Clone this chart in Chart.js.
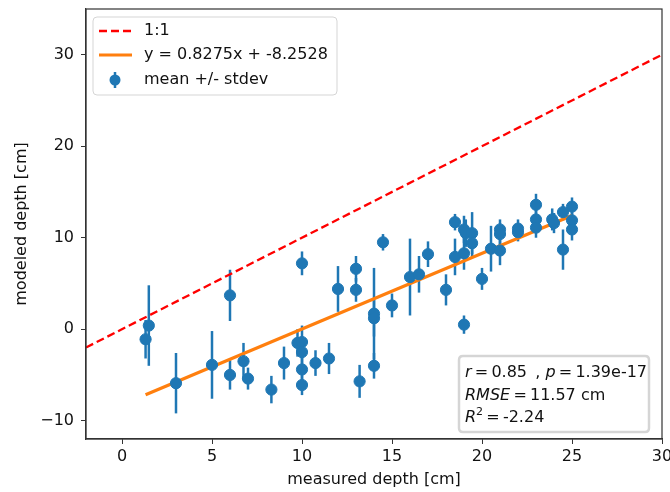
<!DOCTYPE html>
<html lang="en">
<head>
<meta charset="UTF-8">
<title>modeled vs measured depth</title>
<script src="https://cdn.jsdelivr.net/npm/chart.js"></script>
<style>
  html, body { margin: 0; padding: 0; background: #fff; }
  #wrap { width: 670px; height: 492px; }
</style>
</head>
<body>
<div id="wrap"><canvas id="myChart" width="670" height="492"></canvas></div>
<script>
    // measured depth (x), modeled mean (y), stdev (err)
    const measured = [1.31, 1.49, 3.0, 5.0, 6.0, 6.0, 6.75, 7.0, 8.3, 9.0,
        10.0, 9.75, 10.0, 10.0, 10.0, 10.0, 10.75, 11.5, 12.0, 13.0,
        13.0, 13.2, 14.0, 14.0, 14.0, 14.5, 15.0, 16.0, 16.5, 17.0,
        18.0, 18.5, 18.5, 19.0, 19.0, 19.0, 19.1, 19.45, 19.45, 20.0,
        20.5, 21.0, 21.0, 21.0, 22.0, 22.0, 23.0, 23.0, 23.0, 23.9,
        24.0, 24.5, 24.5, 25.0, 25.0, 25.0];
    const modeled = [-1.1, 0.4, -5.9, -3.9, 3.7, -5.0, -3.5, -5.4, -6.6, -3.7,
        7.2, -1.5, -1.4, -2.5, -4.4, -6.1, -3.7, -3.2, 4.4, 6.6,
        4.3, -5.7, -4.0, 1.7, 1.2, 9.5, 2.6, 5.7, 6.0, 8.2,
        4.3, 11.7, 7.9, 0.5, 10.9, 8.3, 10.5, 10.5, 9.4, 5.5,
        8.8, 10.9, 10.4, 8.6, 11.0, 10.6, 13.6, 12.0, 11.1, 12.0,
        11.6, 12.8, 8.7, 13.4, 11.9, 10.9];
    const stdev = [2.1, 4.4, 3.3, 3.7, 2.8, 1.6, 2.0, 1.2, 1.5, 1.8,
        1.3, 1.5, 1.8, 1.5, 1.5, 1.1, 1.4, 1.7, 2.5, 1.4,
        1.3, 1.8, 1.4, 5.0, 2.0, 0.9, 1.3, 4.2, 2.0, 1.4,
        1.7, 0.9, 2.0, 1.0, 1.5, 1.8, 1.5, 2.3, 1.5, 1.2,
        2.5, 1.1, 1.2, 1.6, 1.0, 1.0, 1.2, 1.2, 1.1, 1.2,
        1.1, 0.9, 2.2, 1.0, 1.0, 1.2];

    const oneToOneX = [-2, 30];
    const fitSlope = 0.8275;
    const fitIntercept = -8.2528;
    const fitX = [1.31, 25.0];

    const xTicks = [0, 5, 10, 15, 20, 25, 30];
    const yTicks = [-10, 0, 10, 20, 30];
    const xRange = [-2, 30];
    const yRange = [-12, 35];

    const statsLines = [
        [['r', true], ['\u2009=\u20090.85 \u2009, ', false], ['p', true], ['\u2009=\u20091.39e-17', false]],
        [['RMSE', true], ['\u2009=\u200911.57 cm', false]],
        [['R', true], ['2', 'sup'], ['\u2009=\u2009-2.24', false]]
    ];

    const BLUE = '#1f77b4';
    const FONT = '"DejaVu Sans", sans-serif';
    const FS = 16;

    const points = measured.map((x, i) => ({ x: x, y: modeled[i] }));

    // error bars drawn from the scales
    const errorBars = {
        id: 'errorBars',
        beforeDatasetsDraw(chart) {
            const ctx = chart.ctx;
            const xs = chart.scales.x, ys = chart.scales.y;
            ctx.save();
            ctx.strokeStyle = BLUE;
            ctx.lineWidth = 2.5;
            for (let i = 0; i < measured.length; i++) {
                const px = xs.getPixelForValue(measured[i]);
                ctx.beginPath();
                ctx.moveTo(px, ys.getPixelForValue(modeled[i] - stdev[i]));
                ctx.lineTo(px, ys.getPixelForValue(modeled[i] + stdev[i]));
                ctx.stroke();
            }
            ctx.restore();
        }
    };

    function roundBox(ctx, x, y, w, h, r) {
        ctx.beginPath();
        ctx.moveTo(x + r, y);
        ctx.lineTo(x + w - r, y);
        ctx.quadraticCurveTo(x + w, y, x + w, y + r);
        ctx.lineTo(x + w, y + h - r);
        ctx.quadraticCurveTo(x + w, y + h, x + w - r, y + h);
        ctx.lineTo(x + r, y + h);
        ctx.quadraticCurveTo(x, y + h, x, y + h - r);
        ctx.lineTo(x, y + r);
        ctx.quadraticCurveTo(x, y, x + r, y);
        ctx.closePath();
    }

    const frameAndBoxes = {
        id: 'frameAndBoxes',
        afterDraw(chart) {
            const ctx = chart.ctx;
            const a = chart.chartArea;
            ctx.save();
            // full frame
            ctx.strokeStyle = '#333';
            ctx.lineWidth = 1.2;
            ctx.strokeRect(a.left, a.top, a.right - a.left, a.bottom - a.top);

            // legend
            const lx = a.left + 7, ly = a.top + 8;
            roundBox(ctx, lx, ly, 244, 78, 4);
            ctx.fillStyle = 'rgba(255,255,255,0.85)';
            ctx.fill();
            ctx.strokeStyle = '#d5d5d5';
            ctx.lineWidth = 1;
            ctx.stroke();

            ctx.font = FS + 'px ' + FONT;
            ctx.fillStyle = '#111';
            ctx.textBaseline = 'middle';
            const labels = chart.data.datasets.map(d => d.label);

            ctx.strokeStyle = 'red';
            ctx.lineWidth = 2.3;
            ctx.setLineDash([8, 4]);
            ctx.beginPath(); ctx.moveTo(lx + 6, ly + 14); ctx.lineTo(lx + 39, ly + 14); ctx.stroke();
            ctx.setLineDash([]);
            ctx.fillText(labels[1], lx + 51, ly + 14);

            ctx.strokeStyle = '#ff7f0e';
            ctx.lineWidth = 2.8;
            ctx.beginPath(); ctx.moveTo(lx + 6, ly + 38); ctx.lineTo(lx + 39, ly + 38); ctx.stroke();
            ctx.fillText(labels[2], lx + 51, ly + 38);

            ctx.strokeStyle = BLUE;
            ctx.fillStyle = BLUE;
            ctx.lineWidth = 2.5;
            ctx.beginPath(); ctx.moveTo(lx + 22, ly + 55); ctx.lineTo(lx + 22, ly + 71); ctx.stroke();
            ctx.beginPath(); ctx.arc(lx + 22, ly + 63, 5.5, 0, Math.PI * 2); ctx.fill();
            ctx.fillStyle = '#111';
            ctx.fillText(labels[0], lx + 51, ly + 63);

            // stats box
            const bx = a.right - 203, by = a.bottom - 83;
            roundBox(ctx, bx, by, 190, 76, 4);
            ctx.fillStyle = 'rgba(255,255,255,0.85)';
            ctx.fill();
            ctx.strokeStyle = '#d5d5d5';
            ctx.stroke();
            ctx.fillStyle = '#111';
            statsLines.forEach((parts, li) => {
                let cx = bx + 6;
                const cy = by + 17 + li * 22.5;
                parts.forEach(([txt, style]) => {
                    if (style === 'sup') {
                        ctx.font = '11px ' + FONT;
                        ctx.fillText(txt, cx, cy - 6);
                    } else {
                        ctx.font = (style ? 'italic ' : '') + FS + 'px ' + FONT;
                        ctx.fillText(txt, cx, cy);
                    }
                    cx += ctx.measureText(txt).width;
                });
            });
            ctx.restore();
        }
    };

    const minusSign = v => String(v).replace('-', '\u2212');

    const config = {
        type: 'scatter',
        data: {
            datasets: [{
                label: 'mean +/- stdev',
                data: points,
                backgroundColor: BLUE,
                borderColor: BLUE,
                pointRadius: 5.6,
                pointHoverRadius: 5.6,
                order: 0
            },
            {
                type: 'line',
                label: '1:1',
                data: oneToOneX.map(x => ({ x: x, y: x })),
                borderColor: 'red',
                borderWidth: 2.3,
                borderDash: [8, 4],
                pointRadius: 0,
                fill: false,
                order: 2
            },
            {
                type: 'line',
                label: 'y = ' + fitSlope + 'x + ' + fitIntercept,
                data: fitX.map(x => ({ x: x, y: fitSlope * x + fitIntercept })),
                borderColor: '#ff7f0e',
                borderWidth: 3.2,
                pointRadius: 0,
                fill: false,
                order: 1
            }]
        },
        options: {
            responsive: false,
            animation: false,
            layout: { padding: { left: 0, right: 8, top: 9, bottom: 0 } },
            plugins: {
                legend: { display: false },
                tooltip: { enabled: false }
            },
            scales: {
                x: {
                    type: 'linear',
                    min: xRange[0],
                    max: xRange[1],
                    afterBuildTicks: s => { s.ticks = xTicks.map(v => ({ value: v })); },
                    afterFit: s => { s.height = 53; s.paddingLeft = 0; s.paddingRight = 0; },
                    ticks: {
                        color: '#111',
                        font: { family: FONT, size: FS },
                        padding: 3,
                        maxRotation: 0,
                        callback: minusSign
                    },
                    grid: { drawOnChartArea: false, drawTicks: true, tickLength: 5, color: '#333' },
                    border: { color: '#333', width: 1.2 },
                    title: {
                        display: true,
                        text: 'measured depth [cm]',
                        color: '#111',
                        font: { family: FONT, size: FS },
                        padding: { top: 0, bottom: 3 }
                    }
                },
                y: {
                    type: 'linear',
                    min: yRange[0],
                    max: yRange[1],
                    afterBuildTicks: s => { s.ticks = yTicks.map(v => ({ value: v })); },
                    afterFit: s => { s.width = 86; s.paddingTop = 0; s.paddingBottom = 0; },
                    ticks: {
                        color: '#111',
                        font: { family: FONT, size: FS },
                        padding: 7,
                        callback: minusSign
                    },
                    grid: { drawOnChartArea: false, drawTicks: true, tickLength: 5, color: '#333' },
                    border: { color: '#333', width: 1.2 },
                    title: {
                        display: true,
                        text: 'modeled depth [cm]',
                        color: '#111',
                        font: { family: FONT, size: FS },
                        padding: { top: 12, bottom: 0 }
                    }
                }
            }
        },
        plugins: [errorBars, frameAndBoxes]
    };

    const myChart = new Chart(document.getElementById('myChart'), config);
</script>
</body>
</html>
